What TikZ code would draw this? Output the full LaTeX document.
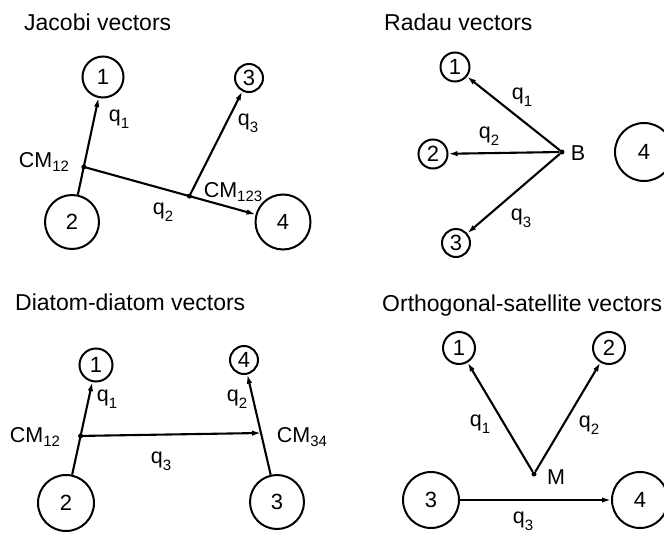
\documentclass[tikz,border=0pt]{standalone}
\usepackage{fontspec}
\setmainfont{Liberation Sans}
\usepackage{tikz}
\usetikzlibrary{arrows.meta,calc}
\newcommand{\qsub}[1]{q\raisebox{-0.32em}{\fontsize{15}{15}\selectfont #1}}
\newcommand{\cmsub}[1]{CM\raisebox{-0.18em}{\fontsize{15}{15}\selectfont #1}}
\tikzset{
  atom/.style={
    circle,
    draw,
    line width=2pt,
    inner sep=0pt,
    font=\fontsize{22}{26}\selectfont
  },
  vecline/.style={
    line width=2.1pt,
    -{Latex[length=9pt,width=5.5pt]}
  },
  bondline/.style={
    line width=2.1pt
  },
  massdot/.style={
    circle,
    fill,
    inner sep=0pt,
    minimum size=5pt
  },
  veclabel/.style={
    font=\fontsize{21.5}{25}\selectfont,
    inner sep=0pt
  },
  paneltitle/.style={
    anchor=base west,
    font=\fontsize{23}{27}\selectfont,
    inner sep=0pt
  }
}

\begin{document}
\begin{tikzpicture}[x=1pt,y=-1pt]
  \useasboundingbox (0,0) rectangle (664,535);
  \clip (0,0) rectangle (664,535);
  % Jacobi
  \node[paneltitle] (jtitle) at (24,31) {Jacobi vectors};
  \node[atom,minimum size=41pt] (j1) at (103,77) {1};
  \node[atom,minimum size=28pt] (j3) at (249,78) {3};
  \node[atom,minimum size=54pt] (j2) at (72,222) {2};
  \node[atom,minimum size=55pt] (j4) at (283,222) {4};
  \coordinate (jc12) at ($(j2)!0.38!(j1)$);
  \coordinate (jc123) at ($(jc12)!0.53!(j4)$);
  \draw[bondline] (j2) -- (jc12);
  \draw[vecline] (jc12) -- (j1);
  \draw[vecline] (jc12) -- (j4);
  \draw[vecline] (jc123) -- (j3);
  \node[massdot] (jd12) at (jc12) {};
  \node[massdot] (jd123) at (jc123) {};
  \node[veclabel] (jq1) at (119,119) {\qsub{1}};
  \node[veclabel] (jq2) at (163,212) {\qsub{2}};
  \node[veclabel] (jq3) at (248,123) {\qsub{3}};
  \node[veclabel] (jcm12) at (44,162) {\cmsub{12}};
  \node[veclabel] (jcm123) at (233,192) {\cmsub{123}};
  % Radau
  \node[paneltitle] (rtitle) at (384,31) {Radau vectors};
  \node[atom,minimum size=29pt] (r1) at (455,67) {1};
  \node[atom,minimum size=29pt] (r2) at (433,154) {2};
  \node[atom,minimum size=28pt] (r3) at (456,243) {3};
  \node[atom,minimum size=58pt] (r4) at (644,152) {4};
  \node[massdot] (rb) at (562,152) {};
  \foreach \target in {r1,r2,r3}{\draw[vecline] (rb) -- (\target);}
  \node[veclabel] (rblab) at (578,153) {B};
  \node[veclabel] (rq1) at (522,97) {\qsub{1}};
  \node[veclabel] (rq2) at (489,136) {\qsub{2}};
  \node[veclabel] (rq3) at (521,218) {\qsub{3}};
  % Diatom-diatom
  \node[paneltitle] (dtitle) at (15,310) {Diatom-diatom vectors};
  \node[atom,minimum size=33pt] (d1) at (96,365) {1};
  \node[atom,minimum size=28pt] (d4) at (244,360) {4};
  \node[atom,minimum size=56pt] (d2) at (66,503) {2};
  \node[atom,minimum size=54pt] (d3) at (277,502) {3};
  \coordinate (dc12) at ($(d2)!0.486!(d1)$);
  \coordinate (dc34) at ($(d3)!0.486!(d4)$);
  \draw[bondline] (d2) -- (dc12);
  \draw[bondline] (d3) -- (dc34);
  \draw[vecline] (dc12) -- (d1);
  \draw[vecline] (dc34) -- (d4);
  \draw[vecline] (dc12) -- (dc34);
  \node[massdot] (dd12) at (dc12) {};
  \node[veclabel] (dq1) at (107,399) {\qsub{1}};
  \node[veclabel] (dq2) at (237,399) {\qsub{2}};
  \node[veclabel] (dq3) at (161,461) {\qsub{3}};
  \node[veclabel] (dcm12) at (35,437) {\cmsub{12}};
  \node[veclabel] (dcm34) at (302,437) {\cmsub{34}};
  % Orthogonal-satellite
  \node[paneltitle] (otitle) at (382,311) {Orthogonal-satellite vectors};
  \node[atom,minimum size=32pt] (o1) at (459,348) {1};
  \node[atom,minimum size=32pt] (o2) at (609,348) {2};
  \node[atom,minimum size=56pt] (o3) at (431,500) {3};
  \node[atom,minimum size=56pt] (o4) at (640,500) {4};
  \node[massdot] (om) at (534,474) {};
  \draw[vecline] (om) -- (o1);
  \draw[vecline] (om) -- (o2);
  \draw[vecline] (o3) -- (o4);
  \node[veclabel] (omlab) at (556,477) {M};
  \node[veclabel] (oq3) at (523,521) {\qsub{3}};
  \node[veclabel] (oq1) at (480,424) {\qsub{1}};
  \node[veclabel] (oq2) at (589,425) {\qsub{2}};
\end{tikzpicture}
\end{document}
